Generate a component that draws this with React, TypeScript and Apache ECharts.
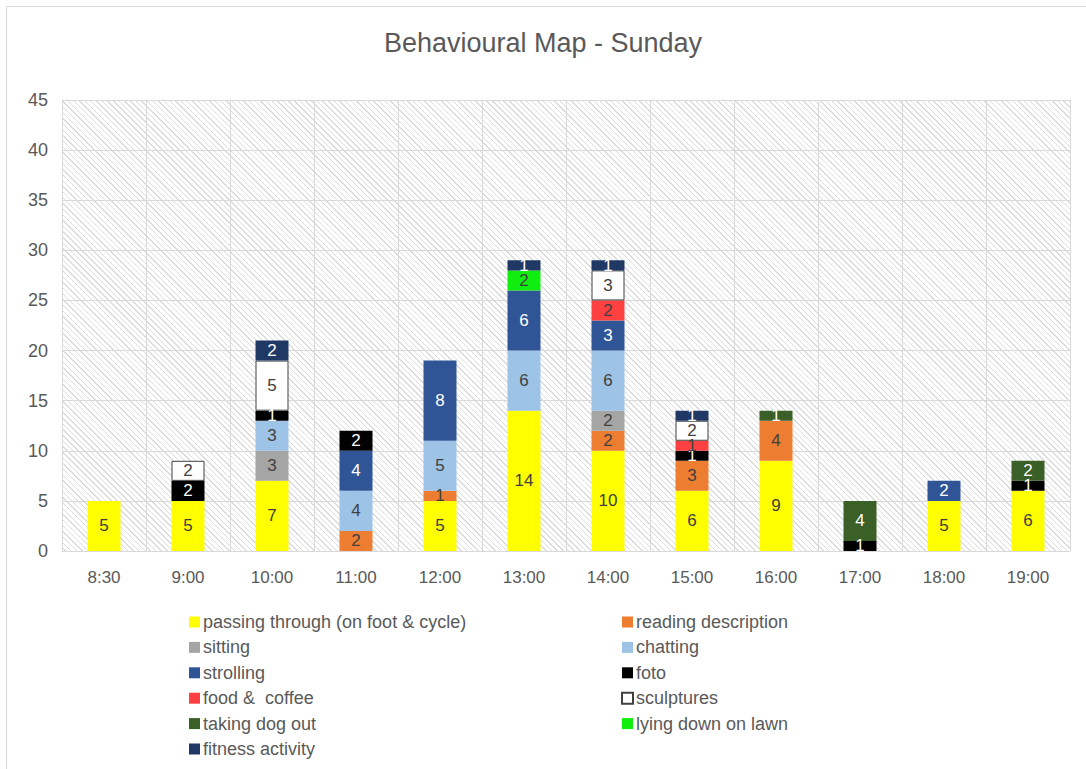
import React, { useEffect, useRef } from "react";
import * as echarts from "echarts";

const categories = ["8:30", "9:00", "10:00", "11:00", "12:00", "13:00", "14:00", "15:00", "16:00", "17:00", "18:00", "19:00"];
const passing = [5, 5, 7, 0, 5, 14, 10, 6, 9, 0, 5, 6];
const reading = [0, 0, 0, 2, 1, 0, 2, 3, 4, 0, 0, 0];
const sitting = [0, 0, 3, 0, 0, 0, 2, 0, 0, 0, 0, 0];
const chatting = [0, 0, 3, 4, 5, 6, 6, 0, 0, 0, 0, 0];
const strolling = [0, 0, 0, 4, 8, 6, 3, 0, 0, 0, 2, 0];
const foto = [0, 2, 1, 2, 0, 0, 0, 1, 0, 1, 0, 1];
const food = [0, 0, 0, 0, 0, 0, 2, 1, 0, 0, 0, 0];
const sculptures = [0, 2, 5, 0, 0, 0, 3, 2, 0, 0, 0, 0];
const dogOut = [0, 0, 0, 0, 0, 0, 0, 0, 1, 4, 0, 2];
const lyingDown = [0, 0, 0, 0, 0, 2, 0, 0, 0, 0, 0, 0];
const fitness = [0, 0, 2, 0, 0, 1, 1, 1, 0, 0, 0, 0];
const yTicks = { min: 0, max: 45, interval: 5 };

const seriesDefs = [
  { name: "passing through (on foot & cycle)", data: passing, color: "#FFFF00", label: "#404040" },
  { name: "reading description", data: reading, color: "#ED7D31", label: "#404040" },
  { name: "sitting", data: sitting, color: "#A5A5A5", label: "#404040" },
  { name: "chatting", data: chatting, color: "#9DC3E6", label: "#404040" },
  { name: "strolling", data: strolling, color: "#2F5597", label: "#FFFFFF" },
  { name: "foto", data: foto, color: "#000000", label: "#FFFFFF" },
  { name: "food &  coffee", data: food, color: "#FF4040", label: "#404040" },
  { name: "sculptures", data: sculptures, color: "#FFFFFF", label: "#404040", border: "#404040" },
  { name: "taking dog out", data: dogOut, color: "#3A5F27", label: "#FFFFFF" },
  { name: "lying down on lawn", data: lyingDown, color: "#10EE10", label: "#404040" },
  { name: "fitness activity", data: fitness, color: "#203864", label: "#FFFFFF" },
];

const FONT = "Liberation Sans";
const GRID = { left: 62, right: 16, top: 100, bottom: 218 };

export default function App() {
  const ref = useRef<HTMLDivElement>(null);
  useEffect(() => {
    if (!ref.current) return;
    const chart = echarts.init(ref.current, null, { renderer: "svg" });
    const leftNames = seriesDefs.filter((_, i) => i % 2 === 0).map((s) => s.name);
    const rightNames = seriesDefs.filter((_, i) => i % 2 === 1).map((s) => s.name);
    const legendCommon = {
      orient: "vertical",
      top: 613,
      height: 160,
      padding: 0,
      itemWidth: 11,
      itemHeight: 11,
      itemGap: 7.4,
      icon: "rect",
      textStyle: { fontFamily: FONT, fontSize: 18, color: "#595959", padding: [0, 0, 0, -2] },
    };
    chart.setOption({
      animation: false,
      backgroundColor: "transparent",
      title: {
        text: "Behavioural Map - Sunday",
        left: "center",
        top: 24,
        textStyle: { fontFamily: FONT, fontSize: 27, fontWeight: "normal", color: "#595959" },
      },
      grid: GRID,
      legend: [
        { ...legendCommon, left: 189, data: leftNames },
        { ...legendCommon, left: 621, data: rightNames },
      ],
      xAxis: {
        type: "category",
        data: categories,
        axisLine: { lineStyle: { color: "#D9D9D9" } },
        axisTick: { show: false },
        splitLine: { show: true, lineStyle: { color: "#D9D9D9" } },
        axisLabel: { fontFamily: FONT, fontSize: 17, color: "#595959", margin: 18 },
      },
      yAxis: {
        type: "value",
        min: yTicks.min,
        max: yTicks.max,
        interval: yTicks.interval,
        axisLine: { show: false },
        axisTick: { show: false },
        splitLine: { lineStyle: { color: "#D9D9D9" } },
        axisLabel: { fontFamily: FONT, fontSize: 18, color: "#595959", margin: 14 },
      },
      series: seriesDefs.map((s) => ({
        name: s.name,
        type: "bar",
        stack: "total",
        barWidth: 33,
        data: s.data.map((v) => (v === 0 ? null : v)),
        itemStyle: {
          color: s.color,
          borderColor: s.border || s.color,
          borderWidth: s.border ? 1 : 0,
        },
        label: {
          show: true,
          position: "inside",
          fontFamily: FONT,
          fontSize: 17,
          color: s.label,
        },
      })),
    });
    return () => chart.dispose();
  }, []);

  return (
    <div style={{ position: "fixed", left: 0, top: 0, width: 1086, height: 769, background: "#fff", overflow: "hidden" }}>
      <div
        style={{
          position: "absolute",
          left: 6,
          top: 6,
          width: 1100,
          height: 800,
          borderLeft: "1.5px solid #D9D9D9",
          borderTop: "1.5px solid #D9D9D9",
        }}
      />
      <div
        style={{
          position: "absolute",
          left: GRID.left,
          top: GRID.top,
          width: 1086 - GRID.left - GRID.right,
          height: 769 - GRID.top - GRID.bottom,
          background: "repeating-linear-gradient(45deg, #ffffff 0px, #ffffff 2px, #dcdcdc 2px, #dcdcdc 3px, #ffffff 3px, #ffffff 4px)",
        }}
      />
      <div ref={ref} style={{ position: "absolute", left: 0, top: 0, width: 1086, height: 769 }} />
    </div>
  );
}
